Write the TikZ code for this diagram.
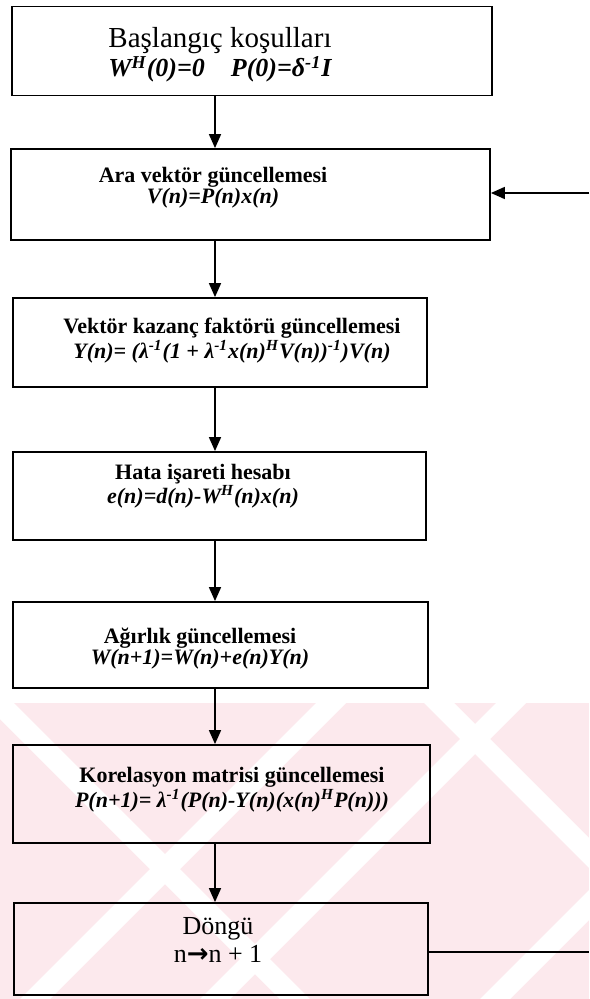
\documentclass[tikz,border=0pt]{standalone}
\usepackage{fontspec}
\setmainfont{Liberation Serif}
\newfontfamily\okfont{DejaVu Sans}
\usetikzlibrary{arrows.meta}

\definecolor{pembe}{RGB}{252,233,237}
\def\pembealan{(0,703) rectangle (589,999)}
\def\formul#1{{\bfseries\itshape #1}}

\begin{document}
\begin{tikzpicture}[x=0.5pt,y=-0.5pt,
    kutu/.style={draw=black,line width=0.9pt,inner sep=0pt},
    yazi/.style={align=center,inner sep=0pt,font=\fontsize{11}{10.5}\selectfont},
    ok/.style={-{Triangle[length=7pt,width=6pt]},line width=0.8pt}]

	\useasboundingbox (0,0) rectangle (589,999);

	% filigran
	\fill[pembe] \pembealan;
	\begin{scope}
		\clip \pembealan;
		\foreach \a in {20,200,480} {
			\fill[white] (\a,999) -- (\a+30,999) -- (\a+330,699) -- (\a+300,699) -- cycle;
		}
		\foreach \b in {-20,420} {
			\fill[white] (\b,699) -- (\b+30,699) -- (\b+330,999) -- (\b+300,999) -- cycle;
		}
	\end{scope}

	% kutular
	\node[kutu,minimum width=240pt,minimum height=44.5pt] (baslangic) at (252,51) {};
	\node[kutu,minimum width=239.5pt,minimum height=45.5pt] (aravektor) at (250.5,194.5) {};
	\node[kutu,minimum width=207pt,minimum height=44.5pt] (kazanc) at (220,342.5) {};
	\node[kutu,minimum width=206.5pt,minimum height=44pt] (hata) at (219.5,496) {};
	\node[kutu,minimum width=207.5pt,minimum height=43pt] (agirlik) at (220.5,645) {};
	\node[kutu,minimum width=208.5pt,minimum height=49pt] (korelasyon) at (221.5,794) {};
	\node[kutu,minimum width=207pt,minimum height=46pt] (dongu) at (221,949) {};

	% yazilar
	\node[yazi,font=\fontsize{14.5}{12.5}\selectfont] (baslangicyazi) at (220,55)
	  {Başlangıç koşulları\\ \fontsize{13}{12}\selectfont
	   \formul{W\textsuperscript{H}(0)=0\quad P(0)=δ\textsuperscript{-1}I}};
	\node[yazi] (aravektoryazi) at (213,188)
	  {\textbf{Ara vektör güncellemesi}\\ \formul{V(n)=P(n)x(n)}};
	\node[yazi] (kazancyazi) at (232,341)
	  {\textbf{Vektör kazanç faktörü güncellemesi}\\
	   \formul{Y(n)= (λ\textsuperscript{-1}(1 + λ\textsuperscript{-1}x(n)\textsuperscript{H}V(n))\textsuperscript{-1})V(n)}};
	\node[yazi] (hatayazi) at (203,486)
	  {\textbf{Hata işareti hesabı}\\ \formul{e(n)=d(n)-W\textsuperscript{H}(n)x(n)}};
	\node[yazi] (agirlikyazi) at (200,649)
	  {\textbf{Ağırlık güncellemesi}\\ \formul{W(n+1)=W(n)+e(n)Y(n)}};
	\node[yazi] (korelasyonyazi) at (232,790)
	  {\textbf{Korelasyon matrisi güncellemesi}\\
	   \formul{P(n+1)= λ\textsuperscript{-1}(P(n)-Y(n)(x(n)\textsuperscript{H}P(n)))}};
	\node[yazi,font=\fontsize{13}{14}\selectfont] (donguyazi) at (218,940)
	  {Döngü\\ n{\okfont\bfseries →}n + 1};

	% geri besleme uclari
	\coordinate (girdi) at (589,193);
	\coordinate (cikti) at (589,952);

	% oklar
	\draw[ok] (baslangic.south -| 215,0) -- (aravektor.north -| 215,0);
	\draw[ok] (aravektor.south -| 215,0) -- (kazanc.north -| 215,0);
	\draw[ok] (kazanc.south -| 215,0) -- (hata.north -| 215,0);
	\draw[ok] (hata.south -| 215,0) -- (agirlik.north -| 215,0);
	\draw[ok] (agirlik.south -| 215,0) -- (korelasyon.north -| 215,0);
	\draw[ok] (korelasyon.south -| 215,0) -- (dongu.north -| 215,0);
	\draw[ok] (girdi) -- (aravektor.east |- girdi);
	\draw[line width=0.8pt] (dongu.east |- cikti) -- (cikti);
\end{tikzpicture}
\end{document}
